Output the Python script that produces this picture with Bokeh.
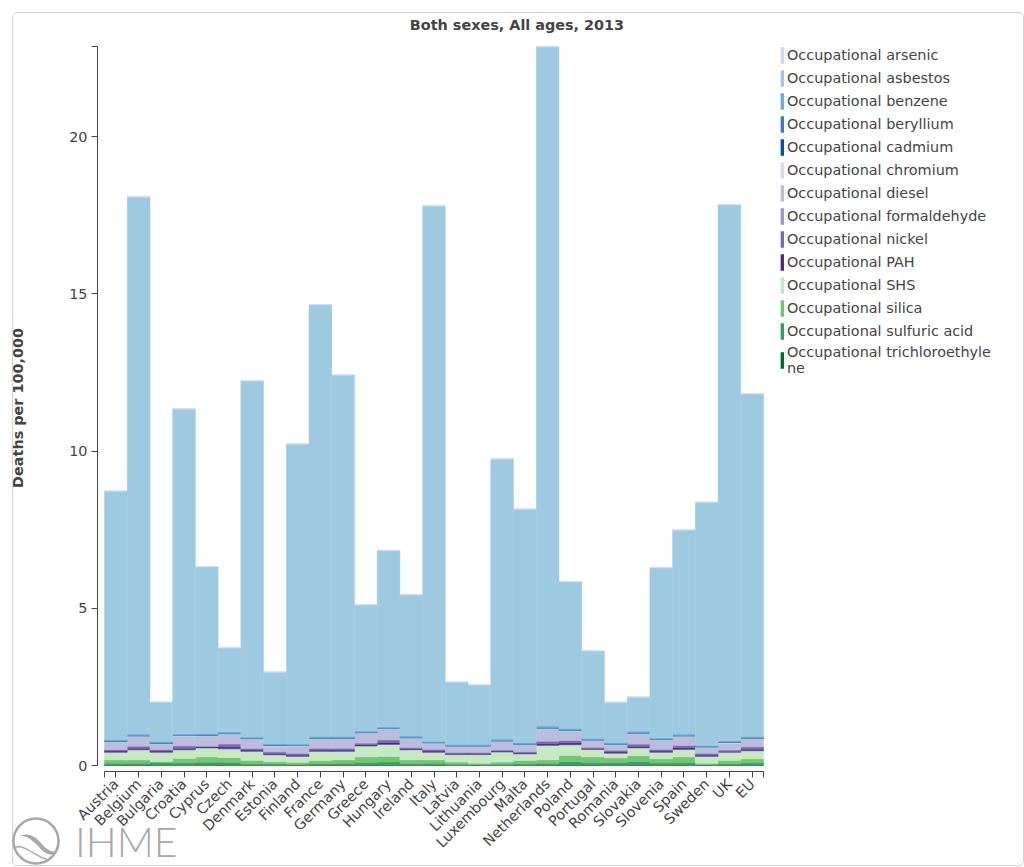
import math
from bokeh.plotting import figure
from bokeh.models import (ColumnDataSource, Range1d, FixedTicker, Legend, LegendItem, Div)
from bokeh.layouts import column
from bokeh.embed import file_html
from bokeh.resources import INLINE

countries = ["Austria", "Belgium", "Bulgaria", "Croatia", "Cyprus", "Czech", "Denmark",
             "Estonia", "Finland", "France", "Germany", "Greece", "Hungary", "Ireland",
             "Italy", "Latvia", "Lithuania", "Luxembourg", "Malta", "Netherlands", "Poland",
             "Portugal", "Romania", "Slovakia", "Slovenia", "Spain", "Sweden", "UK", "EU"]

arsenic = [0.02] * 29
asbestos = [7.89, 17.07, 1.24, 10.32, 5.29, 2.66, 11.31, 2.27, 9.53, 13.71, 11.48, 4.00, 5.59,
            4.48, 17.01, 1.97, 1.88, 8.90, 7.41, 21.59, 4.65, 2.77, 1.27, 1.08, 5.40, 6.48,
            7.72, 17.03, 10.88]
benzene = [0.045, 0.045, 0.045, 0.045, 0.045, 0.05, 0.045, 0.04, 0.04, 0.045, 0.045, 0.045,
           0.05, 0.045, 0.04, 0.04, 0.04, 0.045, 0.04, 0.05, 0.05, 0.04, 0.04, 0.045, 0.045,
           0.045, 0.04, 0.045, 0.045]
beryllium = [0.01] * 29
cadmium = [0.005] * 29
chromium = [0.02] * 29
diesel = [0.24, 0.30, 0.18, 0.30, 0.32, 0.30, 0.28, 0.18, 0.22, 0.30, 0.30, 0.30, 0.33, 0.28,
          0.18, 0.18, 0.18, 0.26, 0.22, 0.39, 0.30, 0.21, 0.17, 0.32, 0.28, 0.28, 0.18, 0.21,
          0.25]
formaldehyde = [0.01] * 29
nickel = [0.04, 0.06, 0.04, 0.07, 0.02, 0.09, 0.05, 0.05, 0.05, 0.05, 0.05, 0.05, 0.08, 0.04,
          0.05, 0.03, 0.03, 0.03, 0.03, 0.08, 0.07, 0.03, 0.05, 0.07, 0.05, 0.07, 0.05, 0.04,
          0.07]
pah = [0.04, 0.05, 0.04, 0.05, 0.03, 0.06, 0.04, 0.04, 0.04, 0.04, 0.04, 0.04, 0.06, 0.03,
       0.04, 0.03, 0.03, 0.03, 0.03, 0.05, 0.06, 0.03, 0.04, 0.05, 0.04, 0.05, 0.04, 0.03, 0.05]
shs = [0.24, 0.32, 0.29, 0.28, 0.29, 0.28, 0.29, 0.22, 0.19, 0.29, 0.27, 0.35, 0.38, 0.32,
       0.24, 0.24, 0.28, 0.32, 0.21, 0.46, 0.34, 0.24, 0.15, 0.25, 0.21, 0.24, 0.22, 0.26, 0.26]
silica = [0.11, 0.11, 0.04, 0.14, 0.17, 0.15, 0.11, 0.07, 0.06, 0.10, 0.11, 0.18, 0.18, 0.13,
          0.11, 0.07, 0.04, 0.07, 0.11, 0.11, 0.20, 0.18, 0.15, 0.19, 0.13, 0.17, 0.04, 0.10,
          0.13]
sulfuric = [0.05, 0.05, 0.08, 0.06, 0.08, 0.08, 0.04, 0.04, 0.03, 0.04, 0.05, 0.07, 0.09, 0.04,
            0.05, 0.03, 0.02, 0.03, 0.04, 0.05, 0.10, 0.07, 0.08, 0.10, 0.06, 0.08, 0.02, 0.04,
            0.06]
trichloro = [0.02, 0.02, 0.01, 0.02, 0.02, 0.02, 0.01, 0.01, 0.01, 0.02, 0.02, 0.02, 0.02, 0.01,
             0.02, 0.01, 0.01, 0.01, 0.01, 0.02, 0.02, 0.02, 0.01, 0.02, 0.02, 0.02, 0.01, 0.02,
             0.02]

# legend order (top of legend first)
series_keys = ["arsenic", "asbestos", "benzene", "beryllium", "cadmium", "chromium", "diesel",
               "formaldehyde", "nickel", "pah", "shs", "silica", "sulfuric", "trichloro"]
series_labels = ["Occupational arsenic", "Occupational asbestos", "Occupational benzene",
                 "Occupational beryllium", "Occupational cadmium", "Occupational chromium",
                 "Occupational diesel", "Occupational formaldehyde", "Occupational nickel",
                 "Occupational PAH", "Occupational SHS", "Occupational silica",
                 "Occupational sulfuric acid", "Occupational trichloroethyle\nne"]
series_colors = ["#c6dbef", "#9ecae1", "#6baed6", "#3182bd", "#08519c",
                 "#dadaeb", "#bcbddc", "#9e9ac8", "#756bb1", "#54278f",
                 "#c7e9c0", "#74c476", "#31a354", "#006d2c"]
series_values = [arsenic, asbestos, benzene, beryllium, cadmium, chromium, diesel,
                 formaldehyde, nickel, pah, shs, silica, sulfuric, trichloro]

tick_values = [0, 5, 10, 15, 20]
title_text = "Both sexes, All ages, 2013"
y_label = "Deaths per 100,000"

y_top = max(sum(v[i] for v in series_values) for i in range(len(countries)))
n = len(countries)

FONT = "DejaVu Sans"
FS = "14.4px"
TXT = "#444444"

# page geometry (pixels): the plot frame covers the legend area too,
# the axes are limited to the bars with "bounds"
W, H = 1024, 867
FRAME_L, FRAME_R, FRAME_T, FRAME_B = 97, 1010, 44, 771
BARS_L, BARS_R = 104, 763          # pixel extent of the bars
ZERO_Y, PX_PER_UNIT = 765, 31.45   # pixel of y=0 and pixels per unit
px_per_bar = (BARS_R - BARS_L) / n
x_start = -(BARS_L - FRAME_L) / px_per_bar
x_end = n + (FRAME_R - BARS_R) / px_per_bar
y_start = -(FRAME_B - ZERO_Y) / PX_PER_UNIT
y_end = (ZERO_Y - FRAME_T) / PX_PER_UNIT

data = {"x": [i + 0.5 for i in range(n)], "country": countries}
for k, v in zip(series_keys, series_values):
    data[k] = v
source = ColumnDataSource(data)

p = figure(width=W, height=H, output_backend="svg", toolbar_location=None,
           x_range=Range1d(x_start, x_end), y_range=Range1d(y_start, y_end),
           min_border_left=FRAME_L, min_border_right=W - FRAME_R, min_border_top=FRAME_T,
           min_border_bottom=H - FRAME_B, title=None)
p.background_fill_color = "white"
p.border_fill_color = "white"
p.outline_line_color = None
p.xgrid.grid_line_color = None
p.ygrid.grid_line_color = None

stack_keys = list(reversed(series_keys))
stack_colors = list(reversed(series_colors))
renderers = p.vbar_stack(stack_keys, x="x", width=1.0, source=source,
                         color=stack_colors, line_width=0.5)
rmap = dict(zip(stack_keys, renderers))

# axes
xa = p.xaxis[0]
xa.ticker = FixedTicker(ticks=[0] + [i + 0.5 for i in range(n)] + [n])
ov = {0: "", n: ""}
for i, c in enumerate(countries):
    ov[i + 0.5] = c
xa.major_label_overrides = ov
xa.bounds = (0, n)
xa.major_label_orientation = math.pi / 4

ya = p.yaxis[0]
ya.ticker = FixedTicker(ticks=tick_values + [y_top])
ya.major_label_overrides = {y_top: ""}
ya.bounds = (0, y_top)
ya.axis_label = y_label
ya.axis_label_text_font = FONT
ya.axis_label_text_font_style = "bold"
ya.axis_label_text_font_size = FS
ya.axis_label_text_color = TXT
ya.axis_label_standoff = 40

for ax in (xa, ya):
    ax.axis_line_color = TXT
    ax.axis_line_width = 1
    ax.major_tick_line_color = TXT
    ax.major_tick_out = 6
    ax.major_tick_in = 0
    ax.minor_tick_line_color = None
    ax.major_label_text_font = FONT
    ax.major_label_text_font_size = FS
    ax.major_label_text_color = TXT
    ax.major_label_standoff = 4

# legend (inside the frame, to the right of the bars)
items = [LegendItem(label=lab, renderers=[rmap[k]]) for k, lab in zip(series_keys, series_labels)]
legend = Legend(items=items, location=(780 - FRAME_L, 395), glyph_width=4, glyph_height=20,
                label_height=20, spacing=3, padding=0, margin=0, label_standoff=3,
                label_text_font=FONT, label_text_font_size=FS,
                label_text_color=TXT, border_line_color=None,
                background_fill_alpha=0)
p.add_layout(legend)

# title, outer frame and IHME logo as a page overlay
overlay_html = f"""
<div style="position:absolute;left:7px;top:7px;width:1012px;height:854px;box-sizing:border-box;
border:1.5px solid #d2d2d2;border-radius:5px;"></div>
<svg style="position:absolute;left:0px;top:0px;" width="{W}" height="{H}">
<text x="512" y="25" text-anchor="middle"
 style="font-family:'{FONT}';font-weight:bold;font-size:{FS};fill:{TXT};">{title_text}</text>
<circle cx="31" cy="836" r="22.5" fill="none" stroke="#a8a8a8" stroke-width="2.5"/>
<path d="M12 833 C 20 826, 30 838, 38 846 C 43 851, 49 850, 53 846 C 47 848, 42 845, 36 838 C 28 829, 20 827, 12 833 Z" fill="#a8a8a8"/>
<path d="M10 842 C 22 840, 30 852, 44 855" fill="none" stroke="#a8a8a8" stroke-width="1.5"/>
<text x="70" y="852"
 style="font-family:'Lato';font-weight:300;font-size:41px;fill:#a8a8a8;">IHME</text>
</svg>
"""
overlay = Div(text=overlay_html, width=W, height=H,
              styles={"position": "absolute", "left": "0px", "top": "0px",
                      "overflow": "visible", "pointer-events": "none", "z-index": "10"})

layout = column(p, overlay)
open("out.html", "w").write(file_html(layout, INLINE))
